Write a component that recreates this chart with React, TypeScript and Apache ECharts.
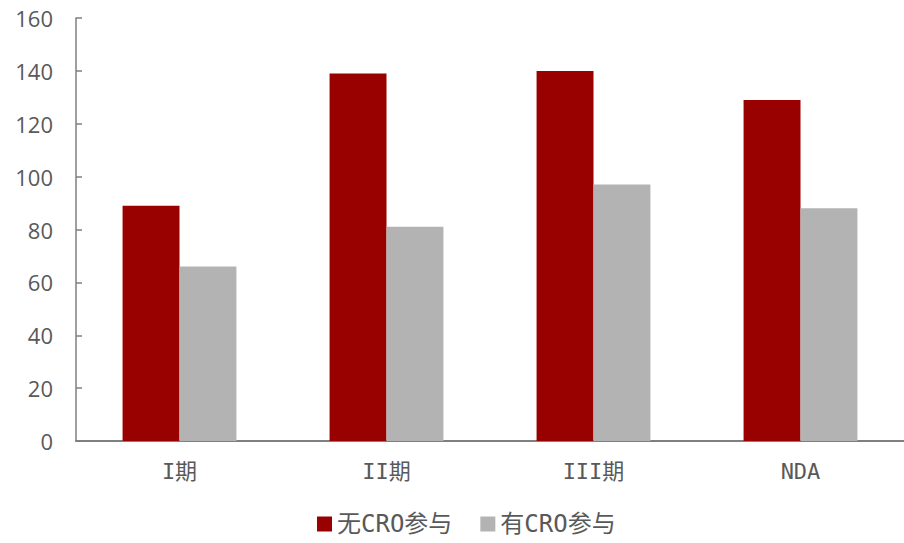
import React, { useEffect, useRef } from "react";
import * as echarts from "echarts";

const categories = ["I期", "II期", "III期", "NDA"];
const noCRO = [89, 139, 140, 129];
const withCRO = [66, 81, 97, 88];
const seriesNames = ["无CRO参与", "有CRO参与"];

const labelFont = "'DejaVu Sans Mono', 'Noto Sans CJK SC', sans-serif";

export default function App() {
  const ref = useRef<HTMLDivElement>(null);
  useEffect(() => {
    const chart = echarts.init(ref.current!, null, { renderer: "svg" });
    chart.setOption({
      animation: false,
      backgroundColor: "#ffffff",
      grid: { left: 76, right: 0, top: 18, bottom: 102, containLabel: false },
      legend: {
        data: seriesNames,
        bottom: 2,
        left: 312,
        itemWidth: 15,
        itemHeight: 15,
        itemGap: 28,
        icon: "rect",
        textStyle: {
          fontSize: 24,
          color: "#595959",
          fontFamily: labelFont,
        },
      },
      xAxis: {
        type: "category",
        data: categories,
        axisLine: { lineStyle: { color: "#7f7f7f", width: 2 } },
        axisTick: { show: false },
        axisLabel: {
          fontSize: 22,
          color: "#595959",
          margin: 19,
          fontFamily: labelFont,
        },
      },
      yAxis: {
        type: "value",
        min: 0,
        max: 160,
        interval: 20,
        splitLine: { show: false },
        axisLine: { show: true, lineStyle: { color: "#7f7f7f", width: 1.5 } },
        axisTick: { show: true, inside: true, length: 6, lineStyle: { color: "#7f7f7f", width: 1.5 } },
        axisLabel: {
          fontSize: 22,
          color: "#595959",
          margin: 23,
          fontFamily: "'Open Sans', 'Noto Sans', sans-serif",
        },
      },
      series: [
        {
          name: seriesNames[0],
          type: "bar",
          data: noCRO,
          barWidth: "27.5%",
          barGap: "0%",
          itemStyle: { color: "#990000" },
        },
        {
          name: seriesNames[1],
          type: "bar",
          data: withCRO,
          barWidth: "27.5%",
          barGap: "0%",
          itemStyle: { color: "#b3b3b3" },
        },
      ],
    });
    return () => chart.dispose();
  }, []);
  return (
    <div
      ref={ref}
      style={{ position: "fixed", left: 0, top: 0, width: 904, height: 543 }}
    />
  );
}
